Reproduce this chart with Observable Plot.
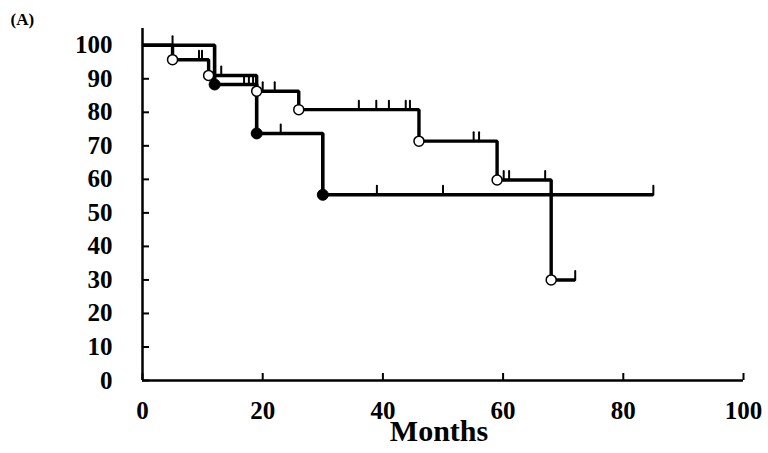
<!DOCTYPE html>
<html>
<head>
<meta charset="utf-8">
<script src="https://cdn.jsdelivr.net/npm/d3@7"></script>
<script src="https://cdn.jsdelivr.net/npm/@observablehq/plot@0.6"></script>
<style>
  html, body { margin: 0; padding: 0; background: #fff; }
  #chart { width: 768px; height: 453px; }
</style>
</head>
<body>
<div id="chart"></div>
<script>
// Group with open circles
const openTimes = [0, 5, 11, 19, 26, 46, 59, 68, 72];
const openSurv  = [100, 95.7, 91, 86.3, 80.8, 71.4, 59.8, 30, 30];
const openCensor = [9.4, 9.9, 13.1, 20, 22, 26, 36, 38.9, 41, 43.8, 44.5, 55.1, 56, 60.1, 61, 67, 72];

// Group with filled circles
const filledTimes = [0, 12, 19, 30, 85];
const filledSurv  = [100, 88.3, 73.7, 55.4, 55.4];
const filledCensor = [5, 16.9, 17.7, 18.4, 23, 39, 50, 85];

const xTicks = [0, 20, 40, 60, 80, 100];
const yTicks = [0, 10, 20, 30, 40, 50, 60, 70, 80, 90, 100];
const xLabel = "Months";
const panelLabel = "(A)";

function curve(times, surv) {
  return times.map((t, i) => ({t, s: surv[i]}));
}
function events(times, surv) {
  return times.map((t, i) => ({t, s: surv[i]})).filter((d, i) => i > 0 && surv[i] < surv[i - 1]);
}
function censors(ct, times, surv) {
  return ct.map(c => {
    let s = surv[0];
    for (let i = 0; i < times.length; i++) if (times[i] <= c) s = surv[i];
    return {t: c, s};
  });
}

const openCurve = curve(openTimes, openSurv);
const filledCurve = curve(filledTimes, filledSurv);
const openEvents = events(openTimes, openSurv);
const filledEvents = events(filledTimes, filledSurv);
const openCens = censors(openCensor, openTimes, openSurv);
const filledCens = censors(filledCensor, filledTimes, filledSurv);

const upTick = {draw(ctx, l) { ctx.moveTo(0, 0); ctx.lineTo(0, -l); }};
const font = "Liberation Serif";

const chart = Plot.plot({
  width: 768,
  height: 453,
  marginLeft: 142,
  marginRight: 25,
  marginTop: 28,
  marginBottom: 73,
  style: {fontFamily: font, background: "#fff", color: "#000"},
  x: {domain: [0, 100]},
  y: {domain: [0, 105]},
  marks: [
    Plot.axisX(xTicks, {tickSize: -7, tickPadding: 28, strokeWidth: 2, fontSize: 25, fontWeight: "bold", fontFamily: font, label: null, fill: "#000"}),
    Plot.axisY(yTicks, {tickSize: -7, tickPadding: 37, strokeWidth: 2, fontSize: 25, fontWeight: "bold", fontFamily: font, label: null, fill: "#000"}),
    Plot.ruleY([0], {stroke: "#000", strokeWidth: 2.5}),
    Plot.ruleX([0], {stroke: "#000", strokeWidth: 2.5}),
    Plot.line(filledCurve, {x: "t", y: "s", curve: "step-after", stroke: "#000", strokeWidth: 3.6, strokeLinejoin: "miter", strokeLinecap: "butt"}),
    Plot.line(openCurve, {x: "t", y: "s", curve: "step-after", stroke: "#000", strokeWidth: 3.4, strokeLinejoin: "miter", strokeLinecap: "butt"}),
    Plot.vector(filledCens, {x: "t", y: "s", length: 9, rotate: 0, anchor: "start", shape: upTick, stroke: "#000", strokeWidth: 2}),
    Plot.vector(openCens, {x: "t", y: "s", length: 9, rotate: 0, anchor: "start", shape: upTick, stroke: "#000", strokeWidth: 2}),
    Plot.dot(filledEvents, {x: "t", y: "s", r: 5.5, fill: "#000", stroke: "#000", strokeWidth: 1}),
    Plot.dot(openEvents, {x: "t", y: "s", r: 5, fill: "#fff", stroke: "#000", strokeWidth: 1.5}),
    Plot.text([xLabel], {frameAnchor: "bottom", dx: -4, dy: 60, fontSize: 30, fontWeight: "bold", fontFamily: font, fill: "#000"}),
    Plot.text([panelLabel], {frameAnchor: "top-left", textAnchor: "start", dx: -132, dy: -16, fontSize: 17, fontWeight: "bold", fontFamily: font, fill: "#000"})
  ]
});
document.getElementById("chart").append(chart);
</script>
</body>
</html>
